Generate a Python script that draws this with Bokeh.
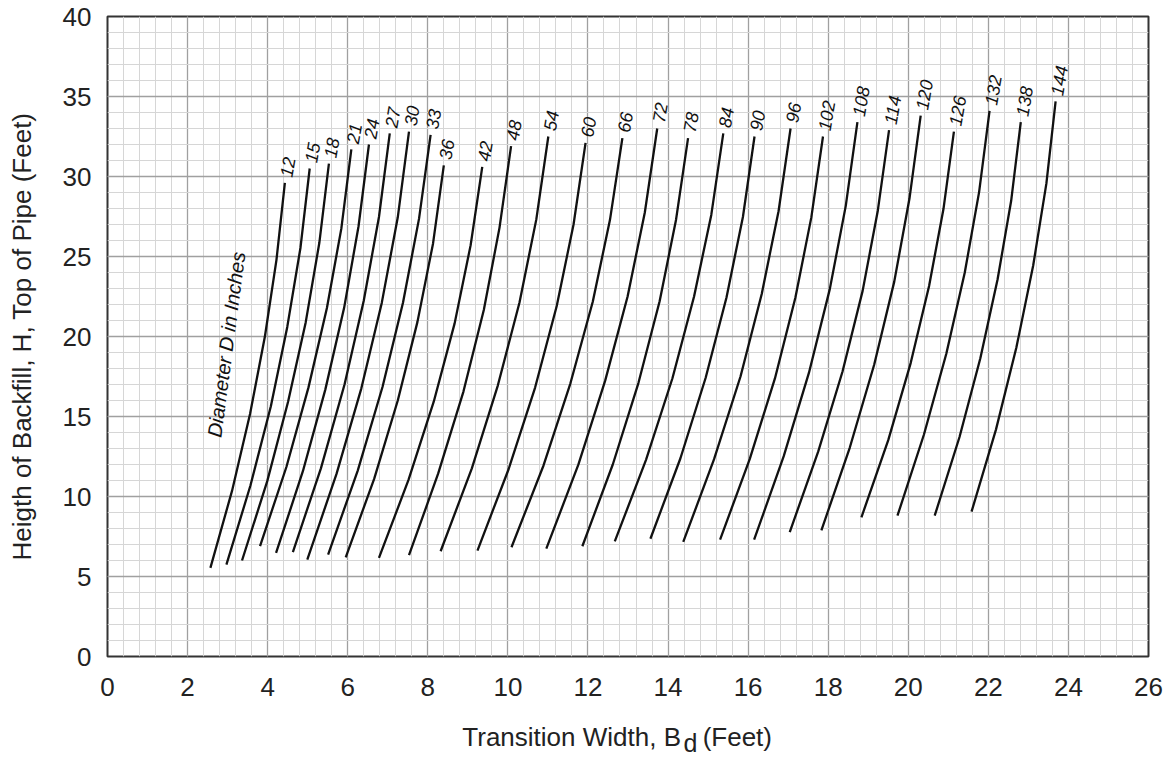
from bokeh.plotting import figure
from bokeh.models import (Range1d, SingleIntervalTicker, FixedTicker, LinearAxis,
                          ColumnDataSource)
from bokeh.core.properties import value
from bokeh.embed import file_html
from bokeh.resources import INLINE

# Pipe diameters (inches) labelling each curve
diameters = [12, 15, 18, 21, 24, 27, 30, 33, 36, 42, 48, 54, 60, 66, 72, 78, 84,
             90, 96, 102, 108, 114, 120, 126, 132, 138, 144]

# Transition width Bd (feet)
curve_x = [
    [2.57, 3.11, 3.56, 3.93, 4.22, 4.43],
    [2.97, 3.57, 4.08, 4.49, 4.82, 5.05],
    [3.36, 3.99, 4.51, 4.95, 5.29, 5.53],
    [3.81, 4.47, 5.02, 5.48, 5.84, 6.09],
    [4.21, 4.88, 5.44, 5.91, 6.27, 6.53],
    [4.63, 5.33, 5.92, 6.40, 6.78, 7.05],
    [4.99, 5.72, 6.34, 6.85, 7.25, 7.53],
    [5.51, 6.25, 6.87, 7.38, 7.78, 8.07],
    [5.95, 6.66, 7.25, 7.74, 8.13, 8.40],
    [6.78, 7.52, 8.15, 8.67, 9.07, 9.36],
    [7.53, 8.26, 8.89, 9.40, 9.79, 10.08],
    [8.32, 9.10, 9.75, 10.29, 10.71, 11.01],
    [9.24, 10.02, 10.68, 11.22, 11.64, 11.94],
    [10.09, 10.89, 11.56, 12.12, 12.55, 12.86],
    [10.96, 11.76, 12.43, 12.99, 13.42, 13.73],
    [11.86, 12.62, 13.26, 13.79, 14.20, 14.50],
    [12.67, 13.45, 14.11, 14.65, 15.08, 15.38],
    [13.56, 14.31, 14.94, 15.46, 15.87, 16.16],
    [14.38, 15.15, 15.81, 16.34, 16.76, 17.06],
    [15.30, 16.04, 16.67, 17.18, 17.58, 17.87],
    [16.15, 16.89, 17.52, 18.04, 18.44, 18.73],
    [17.04, 17.75, 18.36, 18.86, 19.24, 19.52],
    [17.83, 18.54, 19.15, 19.65, 20.03, 20.31],
    [18.83, 19.50, 20.06, 20.52, 20.88, 21.14],
    [19.73, 20.39, 20.95, 21.41, 21.77, 22.03],
    [20.66, 21.28, 21.80, 22.23, 22.57, 22.81],
    [21.58, 22.19, 22.70, 23.12, 23.45, 23.68],
]

# Height of backfill H (feet) at the same points
curve_y = [
    [5.54, 10.35, 15.16, 19.98, 24.79, 29.6],
    [5.74, 10.69, 15.64, 20.60, 25.55, 30.5],
    [6.00, 10.96, 15.92, 20.88, 25.84, 30.8],
    [6.90, 11.86, 16.82, 21.78, 26.74, 31.7],
    [6.47, 11.58, 16.68, 21.79, 26.89, 32.0],
    [6.53, 11.76, 17.00, 22.23, 27.47, 32.7],
    [6.06, 11.41, 16.76, 22.10, 27.45, 32.8],
    [6.37, 11.62, 16.86, 22.11, 27.35, 32.6],
    [6.20, 11.10, 16.00, 20.90, 25.80, 30.7],
    [6.16, 11.05, 15.94, 20.82, 25.71, 30.6],
    [6.33, 11.44, 16.56, 21.67, 26.79, 31.9],
    [6.58, 11.76, 16.95, 22.13, 27.32, 32.5],
    [6.62, 11.72, 16.81, 21.91, 27.00, 32.1],
    [6.83, 11.94, 17.06, 22.17, 27.29, 32.4],
    [6.74, 11.99, 17.24, 22.50, 27.75, 33.0],
    [6.89, 12.00, 17.09, 22.20, 27.30, 32.4],
    [7.19, 12.29, 17.39, 22.50, 27.60, 32.7],
    [7.36, 12.39, 17.42, 22.44, 27.47, 32.5],
    [7.16, 12.33, 17.50, 22.66, 27.83, 33.0],
    [7.30, 12.34, 17.38, 22.42, 27.46, 32.5],
    [7.30, 12.52, 17.74, 22.96, 28.18, 33.4],
    [7.78, 12.80, 17.83, 22.85, 27.88, 32.9],
    [7.88, 13.06, 18.25, 23.43, 28.62, 33.8],
    [8.70, 13.52, 18.34, 23.16, 27.98, 32.8],
    [8.80, 13.86, 18.92, 23.98, 29.04, 34.1],
    [8.80, 13.72, 18.64, 23.56, 28.48, 33.4],
    [9.05, 14.18, 19.31, 24.44, 29.57, 34.7],
]

NBSP = "\u00a0"
x_title = "Transition Width, B" + NBSP * 3 + "(Feet)" + NBSP * 3
x_title_sub = NBSP * 18 + "d"
y_title = "Heigth of Backfill, H, Top of Pipe (Feet)"
note = "Diameter D in Inches"

FONT = "Liberation Sans"
TXT = "#222222"

p = figure(width=1168, height=759,
           x_range=Range1d(0, 26), y_range=Range1d(0, 40),
           output_backend="svg", toolbar_location=None,
           min_border_left=107, min_border_right=20,
           min_border_top=16, min_border_bottom=100)

p.background_fill_color = "white"
p.border_fill_color = "white"
p.outline_line_color = "#333333"
p.outline_line_width = 2

xax = p.xaxis[0]
yax = p.yaxis[0]
xax.ticker = SingleIntervalTicker(interval=2, num_minor_ticks=5)
yax.ticker = SingleIntervalTicker(interval=5, num_minor_ticks=5)

for g in (p.xgrid, p.ygrid):
    g.grid_line_color = "#a0a0a0"
    g.grid_line_width = 1.3
    g.minor_grid_line_color = "#d6d6d6"
    g.minor_grid_line_width = 1

for ax in (xax, yax):
    ax.axis_line_color = None
    ax.major_tick_line_color = None
    ax.minor_tick_line_color = None
    ax.major_tick_out = 0
    ax.minor_tick_out = 0
    ax.major_label_text_font = FONT
    ax.major_label_text_font_size = "26px"
    ax.major_label_text_color = TXT
    ax.axis_label_text_font = FONT
    ax.axis_label_text_font_style = "normal"
    ax.axis_label_text_font_size = "26px"
    ax.axis_label_text_color = TXT

xax.major_label_standoff = 21
xax.axis_label = x_title
xax.axis_label_standoff = 23
yax.major_label_standoff = 16
yax.axis_label = y_title
yax.axis_label_standoff = 23

# subscript "d" of B_d, drawn as the label of a bare axis pulled up under the title
sub_axis = LinearAxis(ticker=FixedTicker(ticks=[]), axis_label=x_title_sub,
                      axis_line_color=None, major_tick_line_color=None,
                      minor_tick_line_color=None, major_tick_out=0, minor_tick_out=0,
                      major_label_standoff=0, axis_label_standoff=-26,
                      axis_label_text_font=FONT, axis_label_text_font_size="25px",
                      axis_label_text_font_style="normal", axis_label_text_color=TXT)
p.add_layout(sub_axis, "below")

p.multi_line(xs=curve_x, ys=curve_y, line_color="#111111", line_width=2.3)

src = ColumnDataSource(dict(
    x=[xs[-1] for xs in curve_x],
    y=[ys[-1] for ys in curve_y],
    t=[str(d) for d in diameters],
))
p.text(x="x", y="y", text="t", source=src, angle=1.40,
       text_font=value(FONT), text_font_style="italic", text_font_size="18px",
       text_align="left", text_baseline="middle", x_offset=1, y_offset=-6,
       text_color="#111111")

p.text(x=[2.97], y=[19.5], text=[note], angle=1.44,
       text_font=value(FONT), text_font_style="italic", text_font_size="20px",
       text_align="center", text_baseline="middle", text_color="#111111")

open("out.html", "w").write(file_html(p, INLINE))
